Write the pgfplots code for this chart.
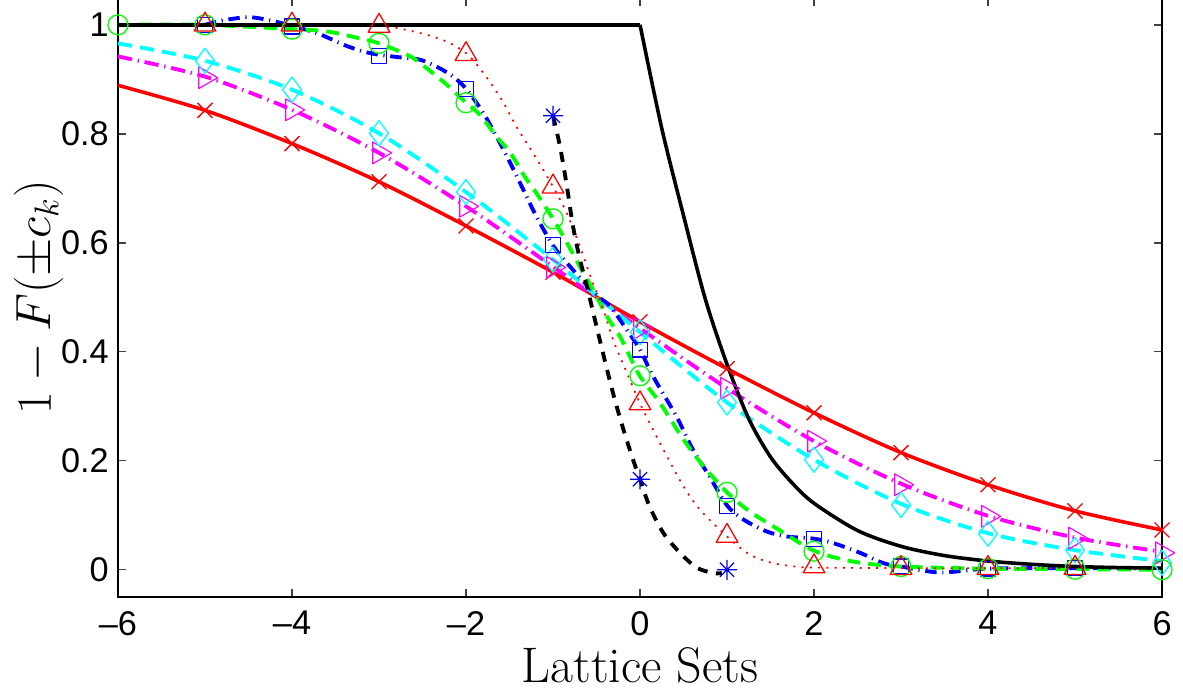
\documentclass[border=0pt]{standalone}
\usepackage{fontspec}
\usepackage{pgfplots}
\pgfplotsset{compat=1.18}
\newfontfamily\tickfont{Liberation Sans}
\pgfdeclareplotmark{mstar}{%
  \pgfpathmoveto{\pgfqpoint{-\pgfplotmarksize}{0pt}}\pgfpathlineto{\pgfqpoint{\pgfplotmarksize}{0pt}}%
  \pgfpathmoveto{\pgfqpoint{0pt}{-\pgfplotmarksize}}\pgfpathlineto{\pgfqpoint{0pt}{\pgfplotmarksize}}%
  \pgfpathmoveto{\pgfqpoint{-.7071\pgfplotmarksize}{-.7071\pgfplotmarksize}}\pgfpathlineto{\pgfqpoint{.7071\pgfplotmarksize}{.7071\pgfplotmarksize}}%
  \pgfpathmoveto{\pgfqpoint{-.7071\pgfplotmarksize}{.7071\pgfplotmarksize}}\pgfpathlineto{\pgfqpoint{.7071\pgfplotmarksize}{-.7071\pgfplotmarksize}}%
  \pgfusepathqstroke}
\definecolor{mred}{rgb}{1,0,0}
\definecolor{mmag}{rgb}{1,0,1}
\definecolor{mcyan}{rgb}{0,1,1}
\definecolor{mblue}{rgb}{0,0,1}
\definecolor{mgreen}{rgb}{0,1,0}
\begin{document}
\begin{tikzpicture}
\path[use as bounding box] (0,0) rectangle (414.05pt,241.5pt);
\begin{axis}[
  at={(41.3pt,32.55pt)}, anchor=south west,
  scale only axis, width=365.4pt, height=209.8pt,
  xmin=-6, xmax=6, ymin=-0.05, ymax=1.05,
  xtick={-6,-4,-2,0,2,4,6}, xticklabels={–6,–4,–2,0,2,4,6},
  ytick={0,0.2,0.4,0.6,0.8,1}, yticklabels={0,0.2,0.4,0.6,0.8,1},
  tick align=inside, major tick length=2.8pt,
  tick style={line width=0.5pt, black!75},
  axis line style={line width=0.6pt},
  ticklabel style={font=\tickfont\fontsize{12}{14}\selectfont},
  xticklabel style={yshift=-1.5pt},
  yticklabel style={xshift=0.3pt},
  xlabel={Lattice Sets}, ylabel={$1-F(\pm c_k)$},
  label style={font=\fontsize{17.5}{20}\selectfont},
  xlabel style={at={(axis description cs:0.5,-0.143)}, anchor=base, inner sep=0pt},
  ylabel style={at={(axis description cs:-0.0761,0.5)}, anchor=center},
  clip=false,
  every axis plot/.append style={line join=round},
  mark options={solid, line width=0.45pt},
]
% red solid, x marks
\addplot[mred, line width=1.25pt, smooth] coordinates {
(-6,0.889)(-5,0.843)(-4,0.782)(-3,0.712)(-2,0.631)(-1,0.546)(0,0.455)(1,0.369)(2,0.288)(3,0.215)(4,0.156)(5,0.108)(6,0.073)};
\addplot[mred, only marks, mark=x, mark size=3.7pt] coordinates {
(-5,0.843)(-4,0.782)(-3,0.712)(-2,0.631)(-1,0.546)(0,0.455)(1,0.369)(2,0.288)(3,0.215)(4,0.156)(5,0.108)(6,0.073)};
% magenta dash-dot, right triangles
\addplot[mmag, line width=1.35pt, smooth, dash pattern=on 5pt off 2pt on 0.5pt off 2pt] coordinates {
(-6,0.942)(-5,0.905)(-4,0.844)(-3,0.765)(-2,0.667)(-1,0.556)(0,0.443)(1,0.333)(2,0.236)(3,0.158)(4,0.099)(5,0.059)(6,0.033)};
\addplot[mmag, only marks, mark=triangle, mark size=4.4pt, mark options={rotate=-90}] coordinates {
(-5,0.903)(-4,0.844)(-3,0.765)(-2,0.667)(-1,0.555)(0,0.443)(1,0.333)(2,0.236)(3,0.156)(4,0.098)(5,0.058)(6,0.031)};
% cyan dashed, diamonds
\addplot[mcyan, line width=1.35pt, smooth, dash pattern=on 5pt off 2.8pt] coordinates {
(-6,0.966)(-5,0.934)(-4,0.881)(-3,0.801)(-2,0.693)(-1,0.569)(0,0.436)(1,0.307)(2,0.202)(3,0.121)(4,0.067)(5,0.036)(6,0.016)};
\addplot[mcyan, only marks, mark=diamond, mark size=4.4pt] coordinates {
(-5,0.934)(-4,0.881)(-3,0.801)(-2,0.693)(-1,0.569)(0,0.436)(1,0.307)(2,0.202)(3,0.119)(4,0.066)(5,0.036)(6,0.013)};
% blue dash-dot, squares
\addplot[mblue, line width=1.35pt, smooth, dash pattern=on 4pt off 2pt on 0.4pt off 2pt] coordinates {
(-5,1.0)(-4.8,1.008)(-4.5,1.014)(-4.25,1.008)(-4,0.998)(-3.7,0.984)(-3.4,0.963)(-3.18,0.951)(-3,0.945)(-2.8,0.941)(-2.53,0.936)(-2.3,0.92)(-2.15,0.905)(-2,0.883)(-1.8,0.838)(-1.63,0.789)(-1.49,0.746)(-1.34,0.697)(-1.19,0.648)(-1,0.595)(-0.84,0.563)(-0.65,0.529)(-0.46,0.499)(-0.34,0.483)(-0.15,0.44)(0,0.404)(0.15,0.355)(0.42,0.281)(0.61,0.22)(0.8,0.171)(1,0.118)(1.19,0.092)(1.46,0.07)(1.69,0.061)(2,0.057)(2.22,0.049)(2.53,0.031)(2.8,0.012)(3,0.006)(3.45,-0.005)(4,0.002)(5,0.003)(6,0.002)};
\addplot[mblue, only marks, mark=square, mark size=2.6pt] coordinates {
(-5,1.0)(-4,0.997)(-3,0.943)(-2,0.882)(-1,0.596)(0,0.404)(1,0.117)(2,0.056)(3,0.006)(4,0.002)(5,0.003)};
% green dashed, circles
\addplot[mgreen, line width=1.35pt, smooth, dash pattern=on 4.5pt off 2.8pt] coordinates {
(-6,1.0)(-5,1.0)(-4,0.992)(-3.6,0.988)(-3.22,0.975)(-3,0.966)(-2.64,0.942)(-2.41,0.915)(-2.22,0.89)(-2,0.857)(-1.84,0.835)(-1.65,0.795)(-1.49,0.765)(-1.34,0.725)(-1.19,0.691)(-1,0.644)(-0.84,0.6)(-0.69,0.556)(-0.54,0.514)(-0.38,0.465)(-0.23,0.428)(-0.115,0.391)(0,0.355)(0.23,0.306)(0.5,0.239)(0.73,0.19)(1,0.142)(1.26,0.107)(1.57,0.076)(2,0.035)(2.45,0.015)(3,0.006)(4,0.002)(5,0.001)(6,0.0)};
\addplot[mgreen, only marks, mark=o, mark size=3.5pt] coordinates {
(-6,1.0)(-5,1.0)(-4,0.992)(-3,0.966)(-2,0.857)(-1,0.644)(0,0.356)(1,0.142)(2,0.034)(3,0.006)(4,0.002)(5,0.001)(6,0.0)};
% red dotted, triangles
\addplot[mred, line width=0.6pt, smooth, dash pattern=on 0.7pt off 2.2pt] coordinates {
(-5,1.0)(-4,1.0)(-3,0.998)(-2.53,0.985)(-2.22,0.969)(-2,0.948)(-1.84,0.92)(-1.61,0.868)(-1.42,0.813)(-1.23,0.765)(-1,0.703)(-0.84,0.654)(-0.69,0.593)(-0.55,0.53)(-0.42,0.477)(-0.31,0.422)(-0.15,0.361)(0,0.305)(0.15,0.257)(0.31,0.208)(0.5,0.153)(0.69,0.11)(1,0.061)(1.26,0.028)(1.53,0.012)(1.84,0.005)(2,0.004)(3,0.003)(4,0.003)(5,0.003)(6,0.003)};
\addplot[mred, only marks, mark=triangle, mark size=4.4pt] coordinates {
(-5,1.0)(-4,1.0)(-3,0.998)(-2,0.946)(-1,0.703)(0,0.305)(1,0.062)(2,0.006)(3,0.003)(4,0.003)(5,0.003)};
% black dashed, blue asterisks
\addplot[black, line width=1.35pt, smooth, dash pattern=on 3.5pt off 3pt] coordinates {
(-1,0.833)(-0.92,0.777)(-0.84,0.703)(-0.77,0.63)(-0.69,0.569)(-0.61,0.52)(-0.46,0.42)(-0.31,0.324)(-0.19,0.257)(-0.08,0.202)(0,0.166)(0.11,0.116)(0.27,0.067)(0.46,0.031)(0.65,0.004)(0.84,-0.006)(0.94,-0.006)};
\addplot[mblue, only marks, mark=mstar, mark size=3.5pt] coordinates {
(-1,0.833)(0,0.166)(1,0.0)};
% black solid
\addplot[black, line width=1.25pt] coordinates {(-6,1)(0,1)};
\addplot[black, line width=1.25pt, smooth] coordinates {
(0,1)(0.25,0.81)(0.5,0.65)(0.75,0.497)(1,0.377)(1.25,0.277)(1.5,0.207)(1.75,0.159)(2,0.122)(2.5,0.072)(3,0.043)(3.5,0.026)(4,0.016)(4.5,0.01)(5,0.006)(5.5,0.004)(6,0.003)};
\end{axis}
\end{tikzpicture}
\end{document}
